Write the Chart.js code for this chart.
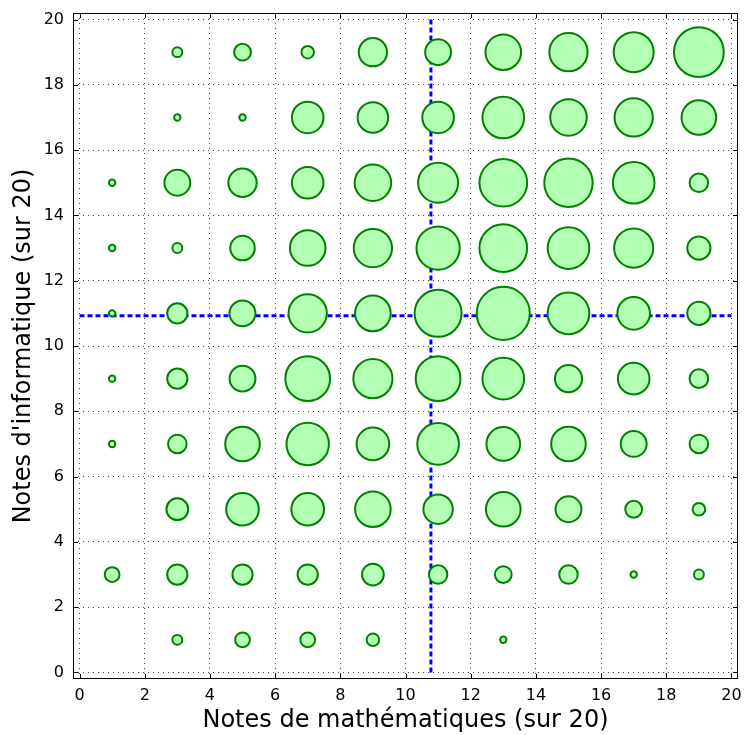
<!DOCTYPE html>
<html>
<head>
<meta charset="utf-8">
<script src="https://cdn.jsdelivr.net/npm/chart.js@4/dist/chart.umd.min.js"></script>
<style>
  html, body { margin: 0; padding: 0; background: #fff; }
  #wrap { width: 745px; height: 735px; }
</style>
</head>
<body>
<div id="wrap"><canvas id="chart" width="745" height="735"></canvas></div>
<script>
// notes (centres des classes) et effectifs
const notesMaths = [1, 3, 5, 7, 9, 11, 13, 15, 17, 19];
const notesInfo = [19, 17, 15, 13, 11, 9, 7, 5, 3, 1];

// effectifs par ligne (note d'informatique), 0 = pas de bulle
const info19 = [0, 2, 5, 3, 13, 11, 20, 23, 25, 38];
const info17 = [0, 1, 1, 16, 15, 16, 27, 21, 23, 19];
const info15 = [1, 11, 13, 16, 21, 25, 35, 36, 27, 6];
const info13 = [1, 2, 10, 20, 23, 29, 35, 27, 24, 9];
const info11 = [1, 7, 11, 23, 20, 34, 43, 27, 17, 9];
const info9  = [1, 7, 11, 31, 24, 31, 27, 12, 16, 6];
const info7  = [1, 6, 19, 28, 17, 27, 18, 19, 11, 6];
const info5  = [0, 8, 17, 17, 20, 14, 19, 11, 5, 3];
const info3  = [4, 7, 7, 7, 8, 6, 5, 6, 1, 2];
const info1  = [0, 2, 4, 4, 3, 0, 1, 0, 0, 0];
const effectifs = [info19, info17, info15, info13, info11, info9, info7, info5, info3, info1];

const moyenneMaths = 10.78;
const moyenneInfo = 10.93;

const points = [];
notesInfo.forEach((y, i) => {
    notesMaths.forEach((x, j) => {
        const n = effectifs[i][j];
        if (n > 0) points.push({x: x, y: y, r: 4.2 * Math.sqrt(n) - 1});
    });
});

// pas de marge supplementaire pour les grosses bulles (elles restent dans le cadre)
Chart.BubbleController.prototype.getMaxOverflow = () => 0;

// cadre + graduations vers l'interieur (style matplotlib)
const cadre = {
    id: 'cadre',
    afterDatasetsDraw(chart) {
        const {ctx, chartArea: a, scales} = chart;
        ctx.save();
        ctx.strokeStyle = '#000';
        ctx.lineWidth = 1;
        ctx.strokeRect(a.left + 0.5, a.top + 0.5, a.right - a.left - 1, a.bottom - a.top - 1);
        ctx.beginPath();
        for (let v = 0; v <= 20; v += 2) {
            const px = Math.round(scales.x.getPixelForValue(v)) + 0.5;
            ctx.moveTo(px, a.bottom); ctx.lineTo(px, a.bottom - 5);
            ctx.moveTo(px, a.top); ctx.lineTo(px, a.top + 5);
            const py = Math.round(scales.y.getPixelForValue(v)) + 0.5;
            ctx.moveTo(a.left, py); ctx.lineTo(a.left + 5, py);
            ctx.moveTo(a.right, py); ctx.lineTo(a.right - 5, py);
        }
        ctx.stroke();
        ctx.restore();
    }
};

function fixe(s, taille) {
    if (s.isHorizontal()) s.height = taille; else s.width = taille;
    s.paddingLeft = s.paddingRight = s.paddingTop = s.paddingBottom = 0;
}

const font = 'DejaVu Sans';
const ctx = document.getElementById('chart').getContext('2d');

new Chart(ctx, {
    type: 'bubble',
    data: {
        datasets: [{
            label: 'effectifs',
            data: points,
            backgroundColor: 'rgb(179, 255, 179)',
            borderColor: 'rgb(0, 128, 0)',
            borderWidth: 2,
            order: 1
        }, {
            type: 'line',
            label: 'moyenne maths',
            data: [{x: moyenneMaths, y: 0}, {x: moyenneMaths, y: 20}],
            borderColor: 'rgb(0, 0, 255)',
            borderWidth: 3,
            borderDash: [5, 3],
            pointRadius: 0,
            fill: false,
            order: 2
        }, {
            type: 'line',
            label: 'moyenne info',
            data: [{x: 0, y: moyenneInfo}, {x: 20, y: moyenneInfo}],
            borderColor: 'rgb(0, 0, 255)',
            borderWidth: 3,
            borderDash: [5, 3],
            pointRadius: 0,
            fill: false,
            order: 2
        }]
    },
    options: {
        responsive: false,
        animation: false,
        layout: { padding: { top: 13, right: 7, left: 0, bottom: 0 } },
        plugins: { legend: { display: false }, tooltip: { enabled: false } },
        scales: {
            x: {
                type: 'linear',
                min: -0.2,
                max: 20.2,
                afterFit: (s) => fixe(s, 56),
                ticks: { stepSize: 2, includeBounds: false, padding: 7, color: '#000',
                         font: { family: font, size: 16 } },
                grid: { color: 'rgba(0,0,0,0.75)', lineWidth: 1, drawTicks: false },
                border: { display: false, dash: [1, 4] },
                title: { display: true, text: 'Notes de mathématiques (sur 20)', color: '#000',
                         font: { family: font, size: 24 }, padding: { top: 0, bottom: 0 } }
            },
            y: {
                type: 'linear',
                min: -0.2,
                max: 20.2,
                afterFit: (s) => fixe(s, 73),
                ticks: { stepSize: 2, includeBounds: false, padding: 9, color: '#000',
                         font: { family: font, size: 16 } },
                grid: { color: 'rgba(0,0,0,0.75)', lineWidth: 1, drawTicks: false },
                border: { display: false, dash: [1, 4] },
                title: { display: true, text: "Notes d'informatique (sur 20)", color: '#000',
                         font: { family: font, size: 24 }, padding: { top: 9, bottom: 0 } }
            }
        }
    },
    plugins: [cadre]
});
</script>
</body>
</html>
